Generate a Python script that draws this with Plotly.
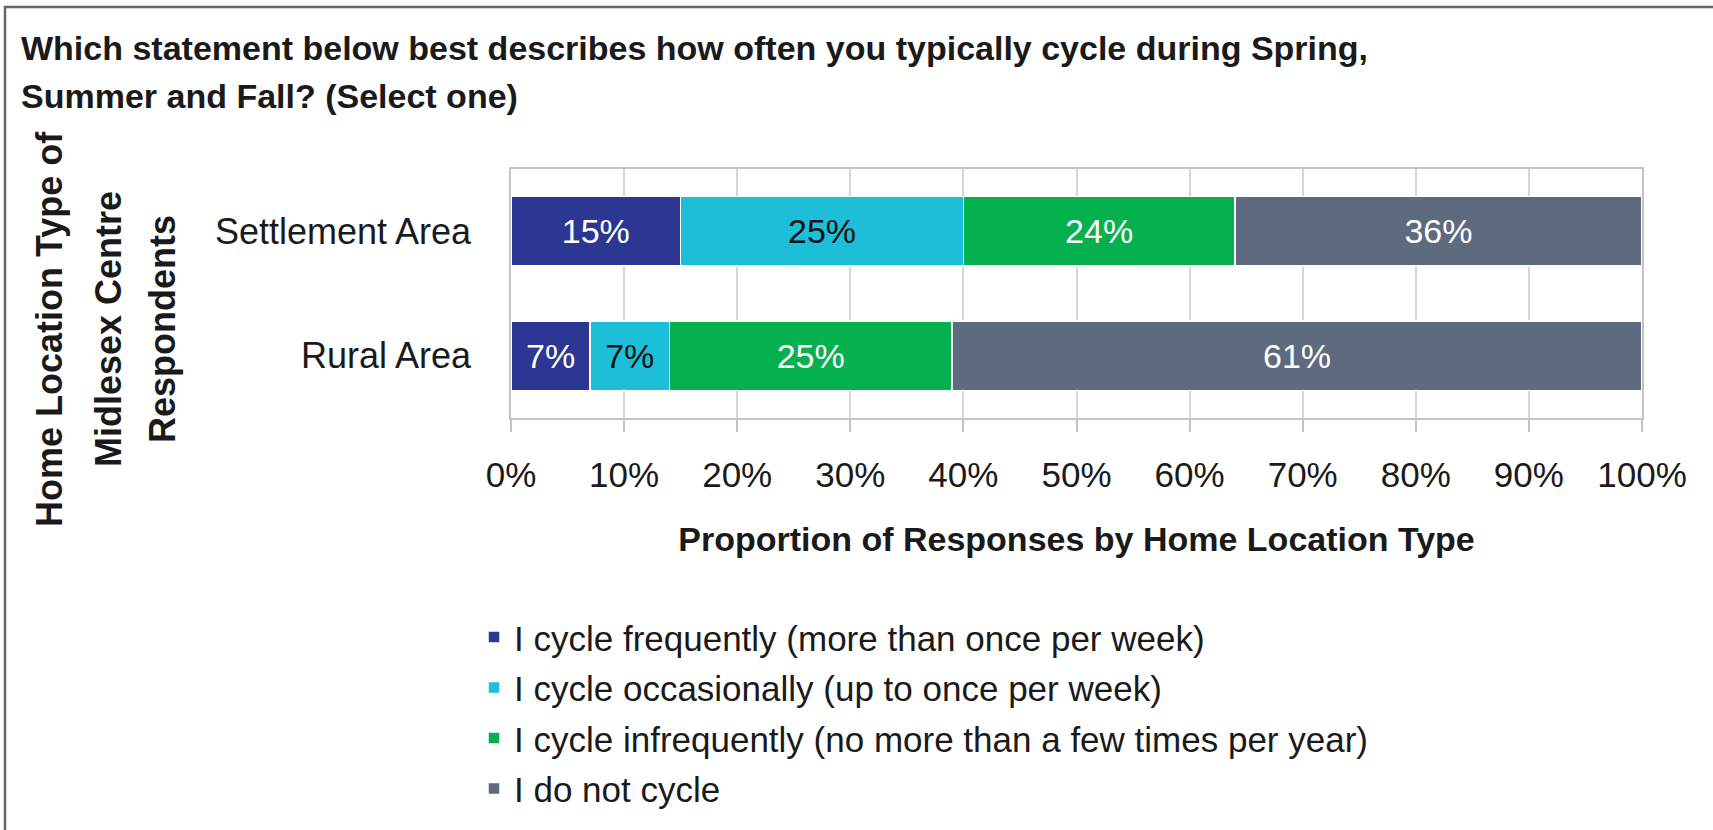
import plotly.graph_objects as go

# Survey results: share of respondents per cycling frequency, by home location type
categories = ["Settlement Area", "Rural Area"]
series_names = [
    "I cycle frequently (more than once per week)",
    "I cycle occasionally (up to once per week)",
    "I cycle infrequently (no more than a few times per year)",
    "I do not cycle",
]
frequently = [15, 7]
occasionally = [25, 7]
infrequently = [24, 25]
not_cycling = [36, 61]

tick_values = [0, 10, 20, 30, 40, 50, 60, 70, 80, 90, 100]
tick_labels = ["0%", "10%", "20%", "30%", "40%", "50%", "60%", "70%", "80%", "90%", "100%"]

series_values = [frequently, occasionally, infrequently, not_cycling]
series_colors = ["#2b3793", "#1cbfd7", "#05b04e", "#5e6b7e"]
label_colors = ["#ffffff", "#111111", "#ffffff", "#ffffff"]

FONT = "Liberation Sans, Arial, sans-serif"
TEXT = "#1a1a1a"
GRID = "#d6d6d6"

W, H = 1713, 830
PL, PR, PT, PB = 511, 71, 169, 409
PW, PH = W - PL - PR, H - PT - PB


def px_x(px):
    """Convert a pixel column to paper x."""
    return (px - PL) / PW


def px_y(py):
    """Convert a pixel row to paper y."""
    return (H - PB - py) / PH


fig = go.Figure()
for i, (name, vals) in enumerate(zip(series_names, series_values)):
    fig.add_trace(go.Bar(
        y=categories,
        x=vals,
        name=name,
        orientation="h",
        legendgroup=f"g{i}",
        marker=dict(color=series_colors[i], line=dict(color="#ffffff", width=1.5)),
        text=[f"{v}%" for v in vals],
        textposition="inside",
        insidetextanchor="middle",
        textangle=0,
        constraintext="none",
        textfont=dict(family=FONT, size=34, color=label_colors[i]),
        hoverinfo="skip",
    ))

annotations = [
    dict(text="<b>Which statement below best describes how often you typically cycle during Spring,</b>",
         x=px_x(19), y=px_y(47), xanchor="left", yanchor="middle", font_size=34),
    dict(text="<b>Summer and Fall? (Select one)</b>",
         x=px_x(19), y=px_y(95), xanchor="left", yanchor="middle", font_size=34),
]
for txt, cx in [("Home Location Type of", 49), ("Midlesex Centre", 108), ("Respondents", 162)]:
    annotations.append(dict(text=f"<b>{txt}</b>", x=px_x(cx), y=px_y(331),
                            xanchor="center", yanchor="middle", textangle=-90, font_size=36))
for a in annotations:
    a.update(xref="paper", yref="paper", showarrow=False,
             font=dict(family=FONT, size=a.pop("font_size"), color=TEXT))

fig.update_layout(
    template="none",
    width=W, height=H, autosize=False,
    margin=dict(l=PL, r=PR, t=PT, b=PB),
    paper_bgcolor="#ffffff", plot_bgcolor="#ffffff",
    barmode="stack", bargap=0.44,
    font=dict(family=FONT, color=TEXT),
    annotations=annotations,
    shapes=[
        dict(type="line", xref="paper", yref="paper", x0=px_x(4), x1=px_x(W + 10), y0=px_y(5), y1=px_y(5),
             line=dict(color="#666666", width=2.5)),
        dict(type="line", xref="paper", yref="paper", x0=px_x(5), x1=px_x(5), y0=px_y(4), y1=px_y(H + 40),
             line=dict(color="#666666", width=2.5)),
    ],
    legend=dict(
        orientation="v", traceorder="grouped", tracegroupgap=2,
        x=px_x(474), y=px_y(613), xanchor="left", yanchor="top",
        font=dict(family=FONT, size=35, color=TEXT),
        bgcolor="rgba(0,0,0,0)", borderwidth=0,
    ),
    xaxis=dict(
        range=[0, 100], tickmode="array", tickvals=tick_values, ticktext=tick_labels,
        showgrid=True, gridcolor=GRID, gridwidth=1.5,
        showline=True, linecolor="#c4c4c4", linewidth=1.5, mirror=True,
        ticks="outside", ticklen=12, tickcolor="#c4c4c4", tickwidth=1.5,
        ticklabelstandoff=13,
        tickfont=dict(family=FONT, size=35, color=TEXT),
        zeroline=False, automargin=False,
        title=dict(text="<b>Proportion of Responses by Home Location Type</b>",
                   font=dict(family=FONT, size=34, color=TEXT), standoff=34),
    ),
    yaxis=dict(
        type="category", categoryorder="array", categoryarray=categories,
        autorange="reversed",
        showgrid=False, showline=True, linecolor="#c4c4c4", linewidth=1.5, mirror=True,
        ticks="", ticklabelstandoff=31, automargin=False,
        tickfont=dict(family=FONT, size=36, color=TEXT),
    ),
)

fig.write_html("out.html")
